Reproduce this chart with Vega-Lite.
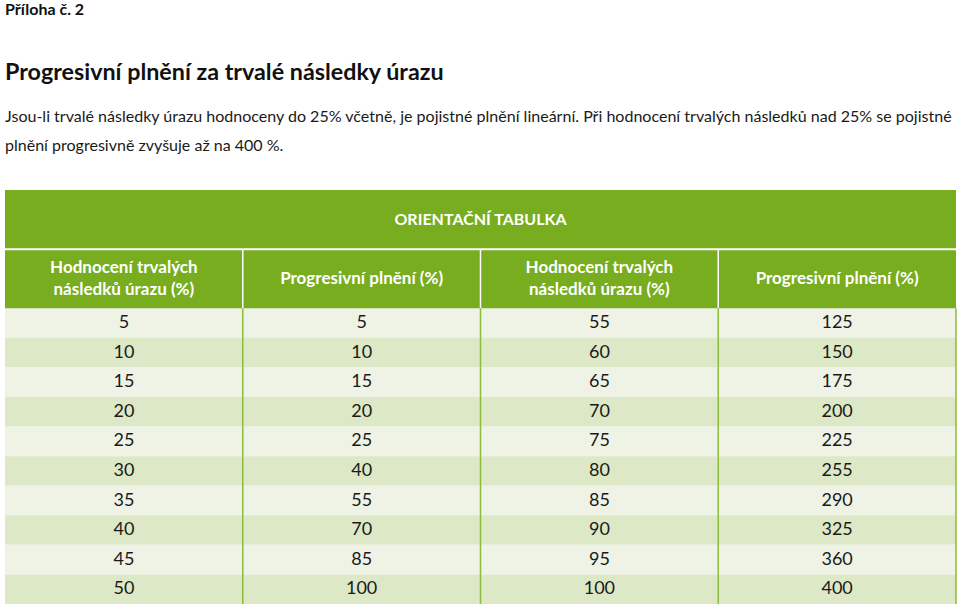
{
  "$schema": "https://vega.github.io/schema/vega-lite/v6.json",
  "background": "white",
  "padding": {"left": 4, "top": 2, "right": 5, "bottom": 4},
  "config": {
    "font": "Lato",
    "view": {"stroke": null},
    "axis": {"disable": true}
  },
  "datasets": {
    "body": [
      {"r": 1, "a": 5, "b": 5, "c": 55, "d": 125},
      {"r": 2, "a": 10, "b": 10, "c": 60, "d": 150},
      {"r": 3, "a": 15, "b": 15, "c": 65, "d": 175},
      {"r": 4, "a": 20, "b": 20, "c": 70, "d": 200},
      {"r": 5, "a": 25, "b": 25, "c": 75, "d": 225},
      {"r": 6, "a": 30, "b": 40, "c": 80, "d": 255},
      {"r": 7, "a": 35, "b": 55, "c": 85, "d": 290},
      {"r": 8, "a": 40, "b": 70, "c": 90, "d": 325},
      {"r": 9, "a": 45, "b": 85, "c": 95, "d": 360},
      {"r": 10, "a": 50, "b": 100, "c": 100, "d": 400}
    ],
    "header": [
      {"col": 1, "label": "Hodnocení trvalých\nnásledků úrazu (%)"},
      {"col": 2, "label": "Progresivní plnění (%)"},
      {"col": 3, "label": "Hodnocení trvalých\nnásledků úrazu (%)"},
      {"col": 4, "label": "Progresivní plnění (%)"}
    ],
    "caption": [{"t": "ORIENTAČNÍ TABULKA"}]
  },
  "title": {
    "text": "Příloha č. 2",
    "anchor": "start",
    "frame": "group",
    "font": "Lato",
    "fontSize": 16,
    "fontWeight": "bold",
    "color": "#111111",
    "offset": 43
  },
  "vconcat": [
    {
      "width": 951,
      "height": 414,
      "title": {
        "text": "Progresivní plnění za trvalé následky úrazu",
        "subtitle": [
          "Jsou-li trvalé následky úrazu hodnoceny do 25% včetně, je pojistné plnění lineární. Při hodnocení trvalých následků nad 25% se pojistné",
          "plnění progresivně zvyšuje až na 400 %."
        ],
        "anchor": "start",
        "frame": "group",
        "font": "Lato",
        "fontSize": 23.3,
        "fontWeight": "bold",
        "color": "#111111",
        "subtitleFont": "Lato",
        "subtitleFontSize": 16.05,
        "subtitleLineHeight": 28.5,
        "subtitleColor": "#1a1a1a",
        "subtitlePadding": 24,
        "offset": 35
      },
      "layer": [
        {
          "data": {"name": "body"},
          "transform": [{"calculate": "datum.r - 1", "as": "r0"}],
          "mark": {"type": "rect"},
          "encoding": {
            "x": {"datum": 0, "type": "quantitative", "scale": {"domain": [0, 4], "nice": false, "zero": false}, "axis": null},
            "x2": {"datum": 4},
            "y": {"field": "r0", "type": "quantitative", "scale": {"domain": [-4, 10], "nice": false, "zero": false, "reverse": true}, "axis": null},
            "y2": {"field": "r"},
            "fill": {"condition": {"test": "datum.r % 2 == 1", "value": "#eef3e5"}, "value": "#dce8c6"}
          }
        },
        {
          "data": {"name": "caption"},
          "mark": {"type": "rect", "fill": "#77ad1f"},
          "encoding": {
            "x": {"datum": 0, "type": "quantitative", "axis": null},
            "x2": {"datum": 4},
            "y": {"datum": -4, "type": "quantitative", "axis": null},
            "y2": {"datum": 0}
          }
        },
        {
          "data": {"name": "caption"},
          "mark": {"type": "rule", "stroke": "white", "strokeWidth": 2},
          "encoding": {
            "x": {"datum": 0, "type": "quantitative", "axis": null},
            "x2": {"datum": 4},
            "y": {"datum": -2, "type": "quantitative", "axis": null}
          }
        },
        {
          "data": {"name": "header"},
          "transform": [{"filter": "datum.col < 4"}],
          "mark": {"type": "rule", "stroke": "white", "strokeWidth": 1.5},
          "encoding": {
            "x": {"field": "col", "type": "quantitative", "axis": null},
            "y": {"datum": -2, "type": "quantitative", "axis": null},
            "y2": {"datum": 0}
          }
        },
        {
          "data": {"name": "header"},
          "mark": {"type": "rule", "stroke": "#8dbb3c", "strokeWidth": 1.5},
          "encoding": {
            "x": {"field": "col", "type": "quantitative", "axis": null},
            "y": {"datum": 0, "type": "quantitative", "axis": null},
            "y2": {"datum": 10}
          }
        },
        {
          "data": {"name": "caption"},
          "mark": {"type": "text", "color": "white", "fontWeight": "bold", "fontSize": 16, "font": "Lato"},
          "encoding": {
            "x": {"datum": 2, "type": "quantitative", "axis": null},
            "y": {"datum": -3, "type": "quantitative", "axis": null},
            "text": {"field": "t"}
          }
        },
        {
          "data": {"name": "header"},
          "transform": [{"filter": "datum.col % 2 == 1"}, {"calculate": "datum.col - 0.5", "as": "xc"}],
          "mark": {"type": "text", "color": "white", "fontWeight": "bold", "fontSize": 17, "lineBreak": "\n", "lineHeight": 22, "dy": -11, "font": "Lato"},
          "encoding": {
            "x": {"field": "xc", "type": "quantitative", "axis": null},
            "y": {"datum": -1, "type": "quantitative", "axis": null},
            "text": {"field": "label"}
          }
        },
        {
          "data": {"name": "header"},
          "transform": [{"filter": "datum.col % 2 == 0"}, {"calculate": "datum.col - 0.5", "as": "xc"}],
          "mark": {"type": "text", "color": "white", "fontWeight": "bold", "fontSize": 17, "font": "Lato"},
          "encoding": {
            "x": {"field": "xc", "type": "quantitative", "axis": null},
            "y": {"datum": -1, "type": "quantitative", "axis": null},
            "text": {"field": "label"}
          }
        },
        {
          "data": {"name": "body"},
          "transform": [
            {"fold": ["a", "b", "c", "d"], "as": ["key", "value"]},
            {"calculate": "indexof(['a','b','c','d'], datum.key) + 0.5", "as": "xc"},
            {"calculate": "datum.r - 0.5", "as": "yc"}
          ],
          "mark": {"type": "text", "color": "#1a1a1a", "fontSize": 18, "font": "Lato"},
          "encoding": {
            "x": {"field": "xc", "type": "quantitative", "axis": null},
            "y": {"field": "yc", "type": "quantitative", "axis": null},
            "text": {"field": "value", "type": "quantitative"}
          }
        }
      ]
    }
  ]
}
